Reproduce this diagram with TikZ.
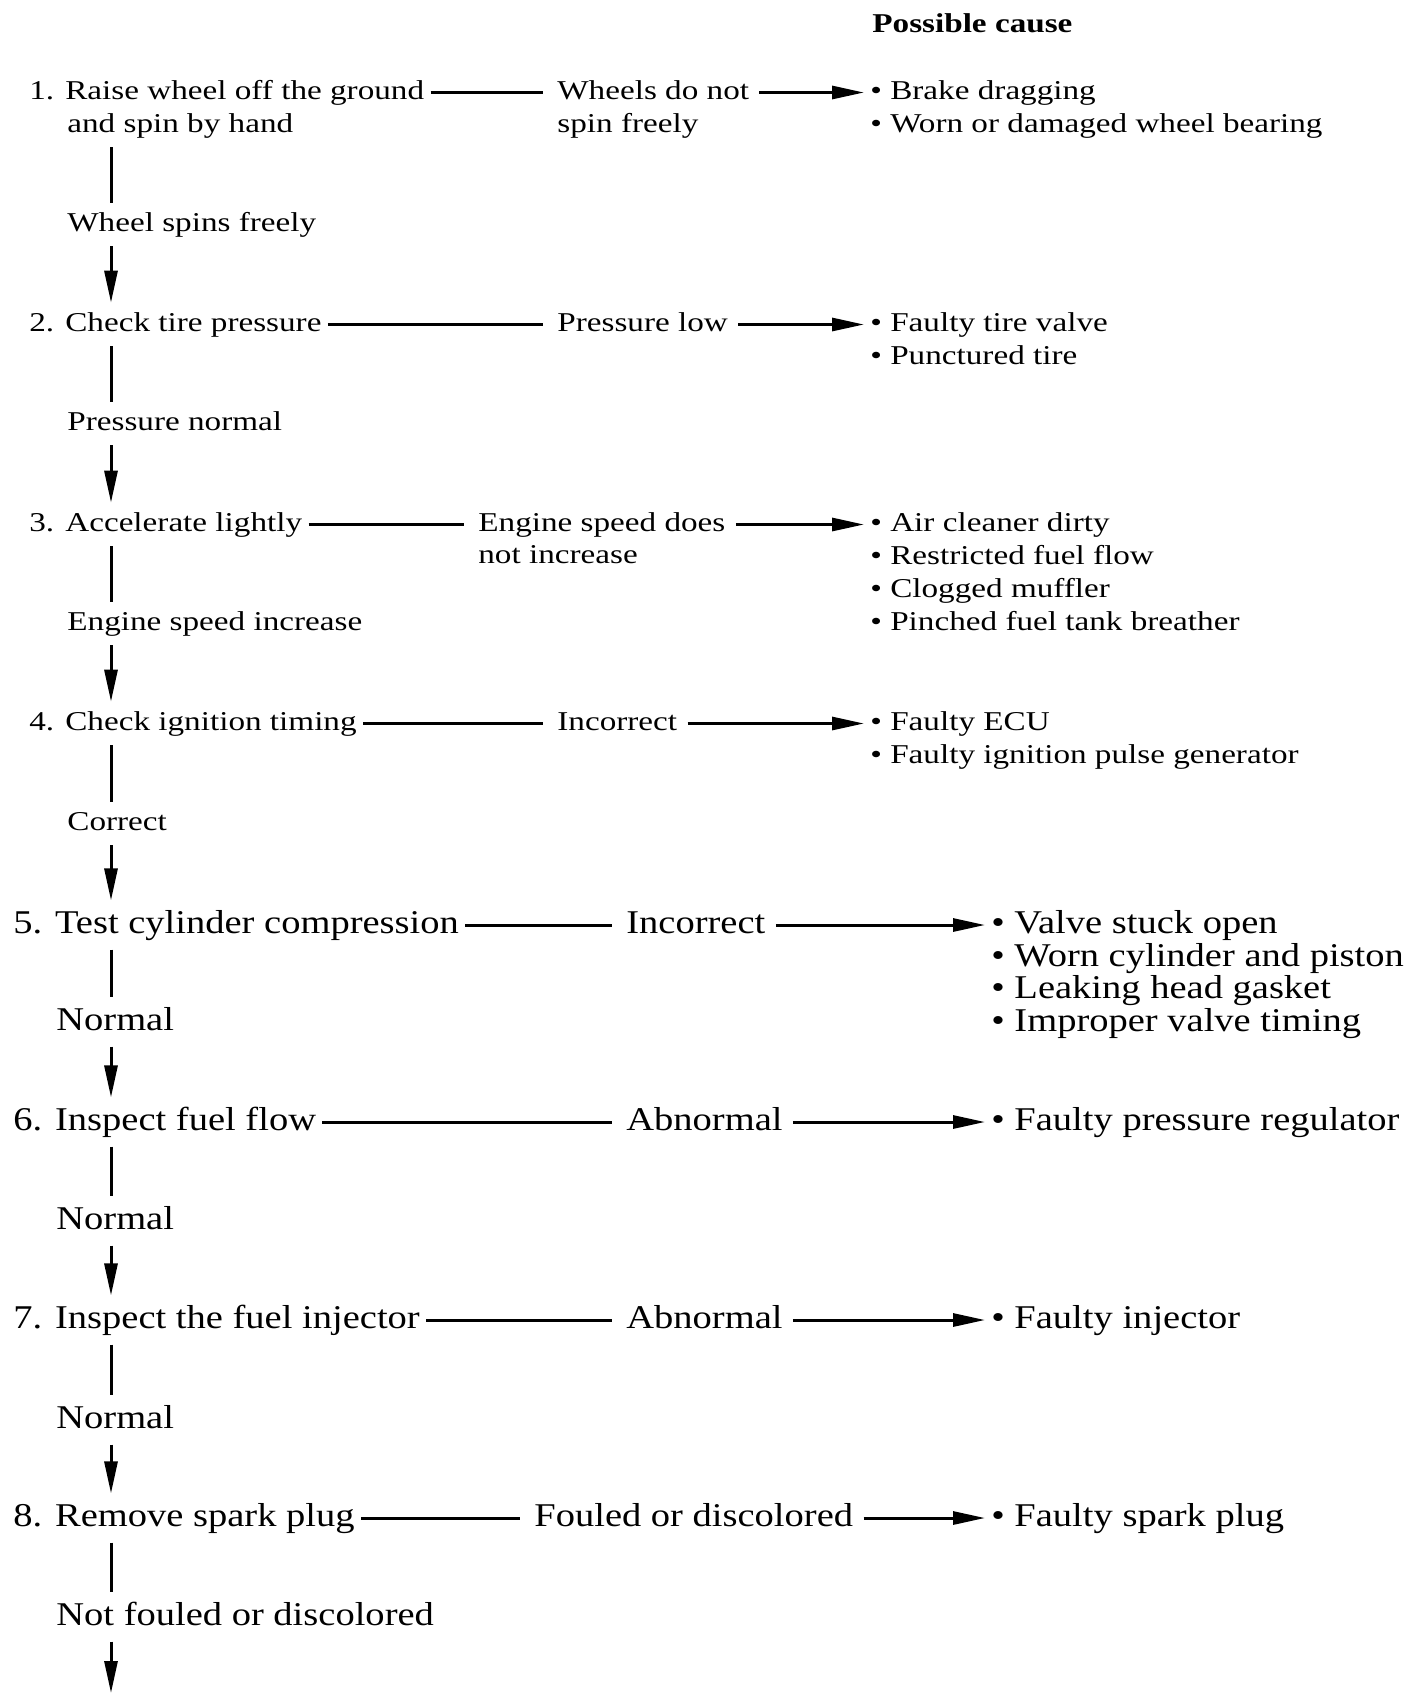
\documentclass[tikz,border=0pt]{standalone}
\usepackage{fontspec}
\usepackage{tikz}
\usetikzlibrary{arrows.meta}
\newfontfamily\topfont{Liberation Serif}[FakeStretch=1.22]
\newfontfamily\lowfont{Liberation Serif}[FakeStretch=1.16]

\begin{document}
\begin{tikzpicture}[
  x=0.5pt, y=-0.5pt,
  txt/.style={anchor=base west, inner xsep=3pt, inner ysep=4.5pt},
  upf/.style={font=\topfont\fontsize{13.6}{16.5}\selectfont},
  lof/.style={font=\lowfont\fontsize{16.6}{16.2}\selectfont},
  up/.style={txt, upf, text height=9.5pt, text depth=3pt},
  lo/.style={txt, lof, text height=11.6pt, text depth=3.6pt},
  cause/.style={anchor=north west, inner xsep=3pt, inner ysep=0pt, align=left},
  ln/.style={line width=1.5pt},
  hln/.style={ln, shorten >=4pt},
  arr/.style={ln, -{Triangle[length=16pt,width=6.5pt]}},
  harr/.style={arr, shorten <=2pt},
]
\useasboundingbox (0,0) rectangle (1410,1693);
\coordinate (spine) at (111,0);

\node[up, font=\topfont\fontsize{13.6}{16.5}\selectfont\bfseries] (head) at (866,32) {Possible cause};

\node[up] (s1)  at (23,99)  {1. Raise wheel off the ground};
\node[up] (s1b) at (61,132) {and spin by hand};
\node[up] (c1)  at (551,99) {Wheels do not};
\node[up] (c1b) at (551,132) {spin freely};
\node[cause, upf] (k1) at (864,80.6) {\textbullet\ Brake dragging\\
  \textbullet\ Worn or damaged wheel bearing};
\node[up] (w1)  at (61,231) {Wheel spins freely};

\node[up] (s2) at (23,331)  {2. Check tire pressure};
\node[up] (c2) at (551,331) {Pressure low};
\node[cause, upf] (k2) at (864,312.6) {\textbullet\ Faulty tire valve\\
  \textbullet\ Punctured tire};
\node[up] (w2) at (61,430)  {Pressure normal};

\node[up] (s3)  at (23,531)  {3. Accelerate lightly};
\node[up] (c3)  at (472,531) {Engine speed does};
\node[up] (c3b) at (472,563) {not increase};
\node[cause, upf] (k3) at (864,512.6) {\textbullet\ Air cleaner dirty\\
  \textbullet\ Restricted fuel flow\\
  \textbullet\ Clogged muffler\\
  \textbullet\ Pinched fuel tank breather};
\node[up] (w3) at (61,630) {Engine speed increase};

\node[up] (s4) at (23,730)  {4. Check ignition timing};
\node[up] (c4) at (551,730) {Incorrect};
\node[cause, upf] (k4) at (864,711.6) {\textbullet\ Faulty ECU\\
  \textbullet\ Faulty ignition pulse generator};
\node[up] (w4) at (61,830) {Correct};

\node[lo] (s5) at (7,933)   {5. Test cylinder compression};
\node[lo] (c5) at (620,933) {Incorrect};
\node[cause, lof] (k5) at (985,910.5) {\textbullet\ Valve stuck open\\
  \textbullet\ Worn cylinder and piston\\
  \textbullet\ Leaking head gasket\\
  \textbullet\ Improper valve timing};
\node[lo] (w5) at (50,1030) {Normal};

\node[lo] (s6) at (7,1130)   {6. Inspect fuel flow};
\node[lo] (c6) at (620,1130) {Abnormal};
\node[cause, lof] (k6) at (985,1107.5) {\textbullet\ Faulty pressure regulator};
\node[lo] (w6) at (50,1229) {Normal};

\node[lo] (s7) at (7,1328)   {7. Inspect the fuel injector};
\node[lo] (c7) at (620,1328) {Abnormal};
\node[cause, lof] (k7) at (985,1305.5) {\textbullet\ Faulty injector};
\node[lo] (w7) at (50,1428) {Normal};

\node[lo] (s8) at (7,1526)   {8. Remove spark plug};
\node[lo] (c8) at (528,1526) {Fouled or discolored};
\node[cause, lof] (k8) at (985,1503.5) {\textbullet\ Faulty spark plug};
\node[lo] (w8) at (50,1625) {Not fouled or discolored};
\coordinate (bottom) at (111,1693);

\draw[hln]  (s1) -- (c1);
\draw[harr] (c1) -- (c1 -| k1.west);
\draw[ln]   (s1b.south -| spine) -- (w1.north -| spine);
\draw[arr]  (w1.south -| spine) -- (s2.north -| spine);

\draw[hln]  (s2) -- (c2);
\draw[harr] (c2) -- (c2 -| k2.west);
\draw[ln]   (s2.south -| spine) -- (w2.north -| spine);
\draw[arr]  (w2.south -| spine) -- (s3.north -| spine);

\draw[hln]  (s3) -- (c3);
\draw[harr] (c3) -- (c3 -| k3.west);
\draw[ln]   (s3.south -| spine) -- (w3.north -| spine);
\draw[arr]  (w3.south -| spine) -- (s4.north -| spine);

\draw[hln]  (s4) -- (c4);
\draw[harr] (c4) -- (c4 -| k4.west);
\draw[ln]   (s4.south -| spine) -- (w4.north -| spine);
\draw[arr]  (w4.south -| spine) -- (s5.north -| spine);

\draw[hln]  (s5) -- (c5);
\draw[harr] (c5) -- (c5 -| k5.west);
\draw[ln]   (s5.south -| spine) -- (w5.north -| spine);
\draw[arr]  (w5.south -| spine) -- (s6.north -| spine);

\draw[hln]  (s6) -- (c6);
\draw[harr] (c6) -- (c6 -| k6.west);
\draw[ln]   (s6.south -| spine) -- (w6.north -| spine);
\draw[arr]  (w6.south -| spine) -- (s7.north -| spine);

\draw[hln]  (s7) -- (c7);
\draw[harr] (c7) -- (c7 -| k7.west);
\draw[ln]   (s7.south -| spine) -- (w7.north -| spine);
\draw[arr]  (w7.south -| spine) -- (s8.north -| spine);

\draw[hln]  (s8) -- (c8);
\draw[harr] (c8) -- (c8 -| k8.west);
\draw[ln]   (s8.south -| spine) -- (w8.north -| spine);
\draw[arr]  (w8.south -| spine) -- (bottom);
\end{tikzpicture}
\end{document}
